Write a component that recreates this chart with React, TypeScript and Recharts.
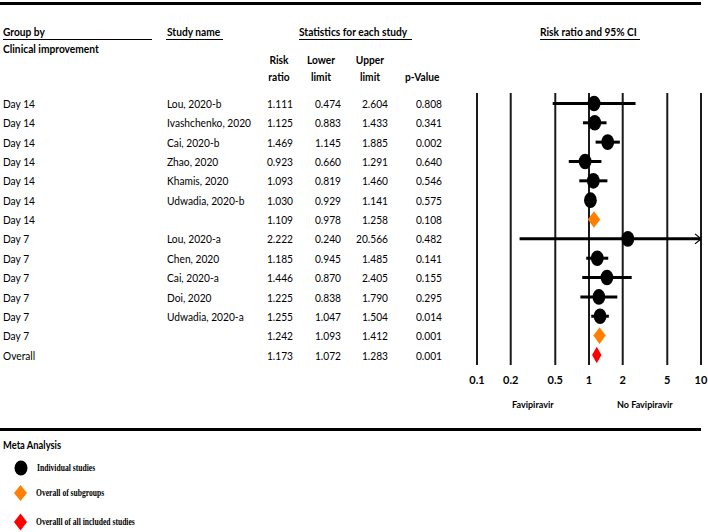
import React from 'react';
import { ScatterChart, Scatter, XAxis, YAxis, CartesianGrid, ErrorBar } from 'recharts';

const groups = ['Day 14', 'Day 14', 'Day 14', 'Day 14', 'Day 14', 'Day 14', 'Day 14', 'Day 7', 'Day 7', 'Day 7', 'Day 7', 'Day 7', 'Day 7', 'Overall'];
const studies = ['Lou, 2020-b', 'Ivashchenko, 2020', 'Cai, 2020-b', 'Zhao, 2020', 'Khamis, 2020', 'Udwadia, 2020-b', '', 'Lou, 2020-a', 'Chen, 2020', 'Cai, 2020-a', 'Doi, 2020', 'Udwadia, 2020-a', '', ''];
const riskRatio = [1.111, 1.125, 1.469, 0.923, 1.093, 1.03, 1.109, 2.222, 1.185, 1.446, 1.225, 1.255, 1.242, 1.173];
const lowerLimit = [0.474, 0.883, 1.145, 0.66, 0.819, 0.929, 0.978, 0.24, 0.945, 0.87, 0.838, 1.047, 1.093, 1.072];
const upperLimit = [2.604, 1.433, 1.885, 1.291, 1.46, 1.141, 1.258, 20.566, 1.485, 2.405, 1.79, 1.504, 1.412, 1.283];
const pValues = ['0.808', '0.341', '0.002', '0.640', '0.546', '0.575', '0.108', '0.482', '0.141', '0.155', '0.295', '0.014', '0.001', '0.001'];
const kinds = ['study', 'study', 'study', 'study', 'study', 'study', 'subgroup', 'study', 'study', 'study', 'study', 'study', 'subgroup', 'overall'];
const xTicks = [0.1, 0.2, 0.5, 1, 2, 5, 10];
const X_MIN = 0.1;
const X_MAX = 10;

const rows = riskRatio.map((rr, i) => ({
  row: i,
  rr,
  kind: kinds[i],
  err: [rr - Math.max(lowerLimit[i], X_MIN), Math.min(upperLimit[i], X_MAX) - rr],
}));
const studyRows = rows.filter((r) => r.kind === 'study');
const summaryRows = rows.filter((r) => r.kind !== 'study');
const arrowRows = rows.filter((r, i) => upperLimit[i] > X_MAX).map((r) => ({ row: r.row, rr: X_MAX }));

const FONT = 'Lato, "Open Sans", sans-serif';
const SERIF = '"Liberation Serif", "DejaVu Serif", serif';
const ROW0 = 103.5;
const ROWH = 19.35;

const StudyShape = (p: any) => <ellipse cx={p.cx} cy={p.cy} rx={6.4} ry={7.8} fill="#000" />;
const DiamondShape = (p: any) => {
  const overall = p.payload.kind === 'overall';
  const w = overall ? 4.7 : 6.2;
  const h = 8.3;
  const fill = overall ? '#FF0000' : '#FF8000';
  const { cx, cy } = p;
  return <polygon points={`${cx - w},${cy} ${cx},${cy - h} ${cx + w},${cy} ${cx},${cy + h}`} fill={fill} />;
};
const ArrowShape = (p: any) => (
  <polyline points={`${p.cx - 6},${p.cy - 5} ${p.cx},${p.cy} ${p.cx - 6},${p.cy + 5}`} fill="none" stroke="#000" strokeWidth={1.2} />
);

type TProps = { x: number; y: number; children: React.ReactNode; align?: 'left' | 'right' | 'center'; bold?: boolean; size?: number; family?: string; sx?: number };
const T = ({ x, y, children, align = 'left', bold = false, size = 12, family = FONT, sx = 0.85 }: TProps) => {
  const w = 240;
  const left = align === 'left' ? x : align === 'right' ? x - w : x - w / 2;
  const origin = align === 'left' ? '0% 50%' : align === 'right' ? '100% 50%' : '50% 50%';
  return (
    <div
      style={{
        position: 'absolute',
        left,
        top: y - 8,
        width: w,
        height: 16,
        lineHeight: '16px',
        textAlign: align,
        fontFamily: family,
        fontSize: size,
        fontWeight: bold ? 700 : 400,
        color: '#000',
        whiteSpace: 'nowrap',
        transform: `scaleX(${sx})`,
        transformOrigin: origin,
      }}
    >
      {children}
    </div>
  );
};

const Rule = ({ x, y, w, h }: { x: number; y: number; w: number; h: number }) => (
  <div style={{ position: 'absolute', left: x, top: y, width: w, height: h, background: '#000' }} />
);

export default function App() {
  return (
    <div style={{ position: 'absolute', left: 0, top: 0, width: 708, height: 532, background: '#fff', overflow: 'hidden' }}>
      <Rule x={0} y={2} w={701} h={3} />

      <T x={3} y={32} bold>Group by</T>
      <Rule x={3} y={39} w={149} h={1} />
      <T x={3} y={49} bold>Clinical improvement</T>
      <T x={167} y={32} bold>Study name</T>
      <Rule x={166} y={39} w={57} h={1} />
      <T x={299} y={32} bold>Statistics for each study</T>
      <Rule x={299} y={39} w={113} h={1} />
      <T x={540} y={32} bold>Risk ratio and 95% CI</T>
      <Rule x={540} y={39} w={100} h={1} />

      <T x={279} y={60} bold align="center">Risk</T>
      <T x={279} y={77} bold align="center">ratio</T>
      <T x={321} y={60} bold align="center">Lower</T>
      <T x={321} y={77} bold align="center">limit</T>
      <T x={370} y={60} bold align="center">Upper</T>
      <T x={370} y={77} bold align="center">limit</T>
      <T x={405} y={77} bold>p-Value</T>

      {groups.map((g, i) => (
        <React.Fragment key={i}>
          <T x={3} y={ROW0 + ROWH * i + 0.5}>{g}</T>
          <T x={167} y={ROW0 + ROWH * i + 0.5}>{studies[i]}</T>
          <T x={293} y={ROW0 + ROWH * i + 0.5} align="right">{riskRatio[i].toFixed(3)}</T>
          <T x={341} y={ROW0 + ROWH * i + 0.5} align="right">{lowerLimit[i].toFixed(3)}</T>
          <T x={388} y={ROW0 + ROWH * i + 0.5} align="right">{upperLimit[i].toFixed(3)}</T>
          <T x={442} y={ROW0 + ROWH * i + 0.5} align="right">{pValues[i]}</T>
        </React.Fragment>
      ))}

      <div style={{ position: 'absolute', left: 0, top: 0 }}>
        <ScatterChart width={708} height={532} margin={{ top: 93, right: 7, bottom: 137, left: 477 }}>
          <CartesianGrid horizontal={false} vertical stroke="#1a1a1a" strokeWidth={2} />
          <XAxis
            dataKey="rr"
            type="number"
            scale="log"
            domain={[X_MIN, X_MAX]}
            ticks={xTicks}
            interval={0}
            allowDataOverflow
            axisLine={false}
            tickLine={false}
            tickMargin={5}
            tickFormatter={(v: number) => String(v)}
            tick={{ fill: '#000', fontSize: 11, fontWeight: 700, fontFamily: FONT }}
          />
          <YAxis dataKey="row" type="number" domain={[-0.54, 13.52]} reversed hide allowDataOverflow />
          <Scatter data={studyRows} shape={StudyShape} isAnimationActive={false}>
            <ErrorBar dataKey="err" direction="x" width={0} stroke="#000" strokeWidth={3} isAnimationActive={false} />
          </Scatter>
          <Scatter data={summaryRows} shape={DiamondShape} isAnimationActive={false} />
          <Scatter data={arrowRows} shape={ArrowShape} isAnimationActive={false} />
        </ScatterChart>
      </div>

      <T x={512} y={404} bold size={10} sx={0.9}>Favipiravir</T>
      <T x={617} y={404} bold size={10} sx={0.9}>No Favipiravir</T>

      <Rule x={0} y={428} w={701} h={3} />
      <T x={3} y={445} bold size={11}>Meta Analysis</T>

      <svg style={{ position: 'absolute', left: 0, top: 455 }} width={40} height={77}>
        <ellipse cx={21} cy={13} rx={6.5} ry={7.5} fill="#000" />
        <polygon points="14,38 20.5,30 27,38 20.5,46" fill="#FF8000" />
        <polygon points="14,67 20.5,58.5 27,67 20.5,75.5" fill="#FF0000" />
      </svg>
      <T x={37} y={468} bold size={9.5} family={SERIF} sx={0.8}>Individual studies</T>
      <T x={36} y={493} bold size={9.5} family={SERIF} sx={0.8}>Overall of subgroups</T>
      <T x={36} y={522} bold size={9.5} family={SERIF} sx={0.8}>Overalll of all included studies</T>
    </div>
  );
}
